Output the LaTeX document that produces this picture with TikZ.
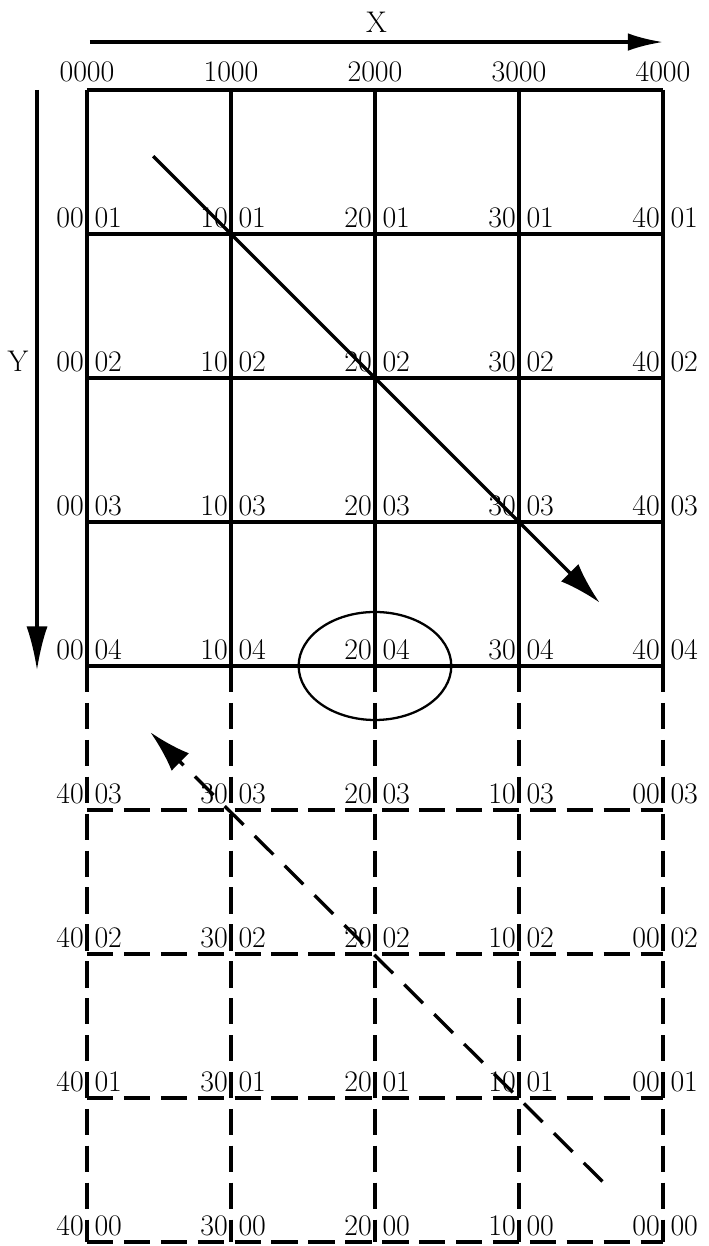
\documentclass[tikz,border=0pt]{standalone}
\usetikzlibrary{arrows.meta}

\tikzset{
	gridline/.style={line width=1.9pt},
	dashline/.style={line width=1.9pt, dash pattern=on 15pt off 6pt},
	lab/.style={inner sep=0pt, font=\fontsize{17}{20}\selectfont},
	axisarrow/.style={line width=1.9pt, -{Latex[length=20pt,width=10pt]}},
	patharrow/.style={line width=1.9pt, -{Latex[length=24pt,width=14pt]}},
}

\begin{document}
\begin{tikzpicture}[x=2.88cm, y=2.88cm]
	\useasboundingbox (-0.604, 0.625) rectangle (4.319, -8.028);
	% axes
	\coordinate (xs) at (0.02, 0.333);
	\coordinate (xe) at (4.0, 0.333);
	\coordinate (ys) at (-0.347, 0);
	\coordinate (ye) at (-0.347, -4.03);
	\draw [axisarrow] (xs) -- (xe);
	\draw [line width=1.9pt, -{Latex[length=25pt,width=12pt]}] (ys) -- (ye);
	\node [lab] (xlab) at (2.01, 0.47) {X};
	\node [lab, anchor=south] (ylab) at (-0.48, -1.96) {Y};
	% upper grid
	\foreach \i in {0,...,4} {
		\draw [gridline] (\i, 0) -- (\i, -4);
		\draw [gridline] (0, -\i) -- (4, -\i);
	}
	% lower grid, dashed
	\foreach \i in {0,...,4}
		\draw [dashline] (\i, -4) -- (\i, -8);
	\foreach \j in {5,...,8}
		\draw [dashline] (0, -\j) -- (4, -\j);
	% labels of the upper grid
	\foreach \i in {0,...,4}
		\node [lab, anchor=south] (top\i) at (\i, 0.05) {\i000};
	\foreach \r in {1,...,4}
		\foreach \i in {0,...,4} {
			\node [lab, anchor=south east] (ua\i\r) at (\i-0.02, -\r+0.04) {\i0};
			\node [lab, anchor=south west] (ub\i\r) at (\i+0.05, -\r+0.04) {0\r};
		}
	% labels of the lower grid
	\foreach \r in {0,...,3}
		\foreach \i in {0,...,4} {
			\pgfmathtruncatemacro{\n}{4-\i}
			\pgfmathtruncatemacro{\yy}{8-\r}
			\node [lab, anchor=south east] (la\i\r) at (\i-0.02, -\yy+0.04) {\n0};
			\node [lab, anchor=south west] (lb\i\r) at (\i+0.05, -\yy+0.04) {0\r};
		}
	% ring round 2004
	\draw [line width=1.3pt] (2, -4) ellipse (0.53 and 0.375);
	% paths
	\coordinate (p1s) at (0.46, -0.46);
	\coordinate (p1e) at (3.56, -3.56);
	\draw [patharrow] (p1s) -- (p1e);
	\coordinate (p2s) at (3.58, -7.58);
	\coordinate (p2e) at (0.44, -4.46);
	\draw [patharrow, dash pattern=on 15pt off 9pt] (p2s) -- (p2e);
\end{tikzpicture}
\end{document}
